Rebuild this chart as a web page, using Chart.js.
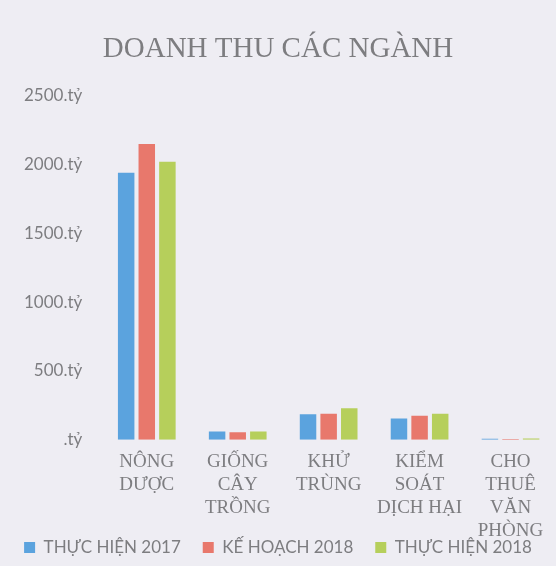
<!DOCTYPE html>
<html>
<head>
<meta charset="utf-8">
<script src="https://cdn.jsdelivr.net/npm/chart.js@4"></script>
<style>
  html, body { margin: 0; padding: 0; background: #eeedf3; }
  #wrap { width: 556px; height: 566px; }
</style>
</head>
<body>
<div id="wrap"><canvas id="chartRevenue"></canvas></div>
<script>
// Doanh thu cac nganh
const categories = [
    ["NÔNG", "DƯỢC"],
    ["GIỐNG", "CÂY", "TRỒNG"],
    ["KHỬ", "TRÙNG"],
    ["KIỂM", "SOÁT", "DỊCH HẠI"],
    ["CHO", "THUÊ", "VĂN", "PHÒNG"]
];
const thucHien2017 = [1940, 60, 185, 155, 8];
const keHoach2018 = [2150, 55, 190, 175, 6];
const thucHien2018 = [2020, 60, 230, 190, 10];
const yTicks = [0, 500, 1000, 1500, 2000, 2500];

setupChart = () => {
    const grey = "#7d7d80";

    // x labels hang down into the legend row, so give them room to draw
    const labelRoom = {
        id: "labelRoom",
        afterLayout: (chart) => {
            chart.scales.x.bottom += 30;
        },
    };

    const config = {
        type: "bar",
        data: {
            labels: categories,
            datasets: [
                { label: "THỰC HIỆN 2017", data: thucHien2017, backgroundColor: "#5ba3de" },
                { label: "KẾ HOẠCH 2018", data: keHoach2018, backgroundColor: "#e8786c" },
                { label: "THỰC HIỆN 2018", data: thucHien2018, backgroundColor: "#b6cf5b" },
            ],
        },
        options: {
            responsive: false,
            animation: false,
            layout: { padding: { left: 0, right: 0, top: 32, bottom: 0 } },
            categoryPercentage: 0.68,
            barPercentage: 0.8,
            plugins: {
                title: {
                    display: true,
                    text: "DOANH THU CÁC NGÀNH",
                    color: grey,
                    font: { family: "Liberation Serif", size: 29, weight: "normal" },
                    padding: { top: 0, bottom: 29 },
                },
                legend: {
                    position: "bottom",
                    labels: {
                        color: grey,
                        font: { family: "Lato", size: 17 },
                        boxWidth: 11,
                        boxHeight: 11,
                        padding: 22,
                    },
                },
                tooltip: { enabled: false },
            },
            scales: {
                x: {
                    grid: { display: false },
                    border: { display: false },
                    afterFit: (axis) => {
                        axis.height -= 28;
                    },
                    ticks: {
                        color: grey,
                        font: { family: "Liberation Serif", size: 19 },
                        maxRotation: 0,
                        autoSkip: false,
                        padding: 3,
                    },
                },
                y: {
                    min: 0,
                    max: 2500,
                    grid: { display: false },
                    border: { display: false },
                    afterBuildTicks: (axis) => {
                        axis.ticks = yTicks.map((v) => ({ value: v }));
                    },
                    afterFit: (axis) => {
                        axis.width += 13;
                    },
                    ticks: {
                        color: grey,
                        font: { family: "Lato", size: 17 },
                        padding: 11,
                        callback: (v) => (v === 0 ? ".tỷ" : v + ".tỷ"),
                    },
                },
            },
        },
        plugins: [labelRoom],
    };

    let ctx = document.getElementById("chartRevenue");
    ctx.width = 556;
    ctx.height = 566;
    new Chart(ctx, config);
};

setupChart();
</script>
</body>
</html>
